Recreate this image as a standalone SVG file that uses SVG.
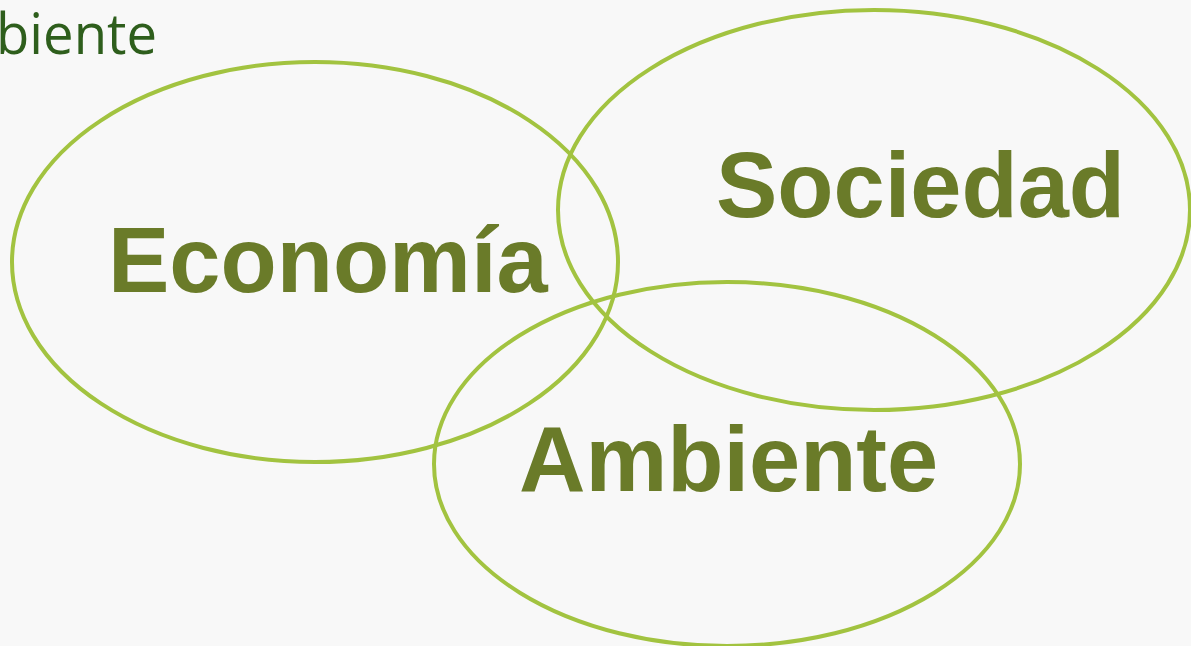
<svg xmlns="http://www.w3.org/2000/svg" width="1191" height="646" viewBox="0 0 1191 646">
<style>
.ring{fill:none;stroke:#a2c340;stroke-width:4}
.big{font-family:"Liberation Sans",Arial,sans-serif;font-weight:bold;font-size:92px;fill:#6a7b29}
.head{font-family:"Open Sans","Noto Sans",sans-serif;font-size:56px;fill:#2e5e1c}
</style>
<rect width="1191" height="646" fill="#f8f8f8"/>
<text class="head" x="-4" y="54" textLength="161" lengthAdjust="spacingAndGlyphs">biente</text>
<g id="economia">
<ellipse class="ring" cx="315" cy="262" rx="303" ry="200"/>
<text class="big" x="108" y="292">Economía</text>
</g>
<g id="sociedad">
<ellipse class="ring" cx="874" cy="210" rx="316" ry="200"/>
<text class="big" x="716" y="217">Sociedad</text>
</g>
<g id="ambiente">
<ellipse class="ring" cx="727" cy="464" rx="293" ry="182"/>
<text class="big" x="519" y="491">Ambiente</text>
</g>
<g id="connectors"/>
</svg>
